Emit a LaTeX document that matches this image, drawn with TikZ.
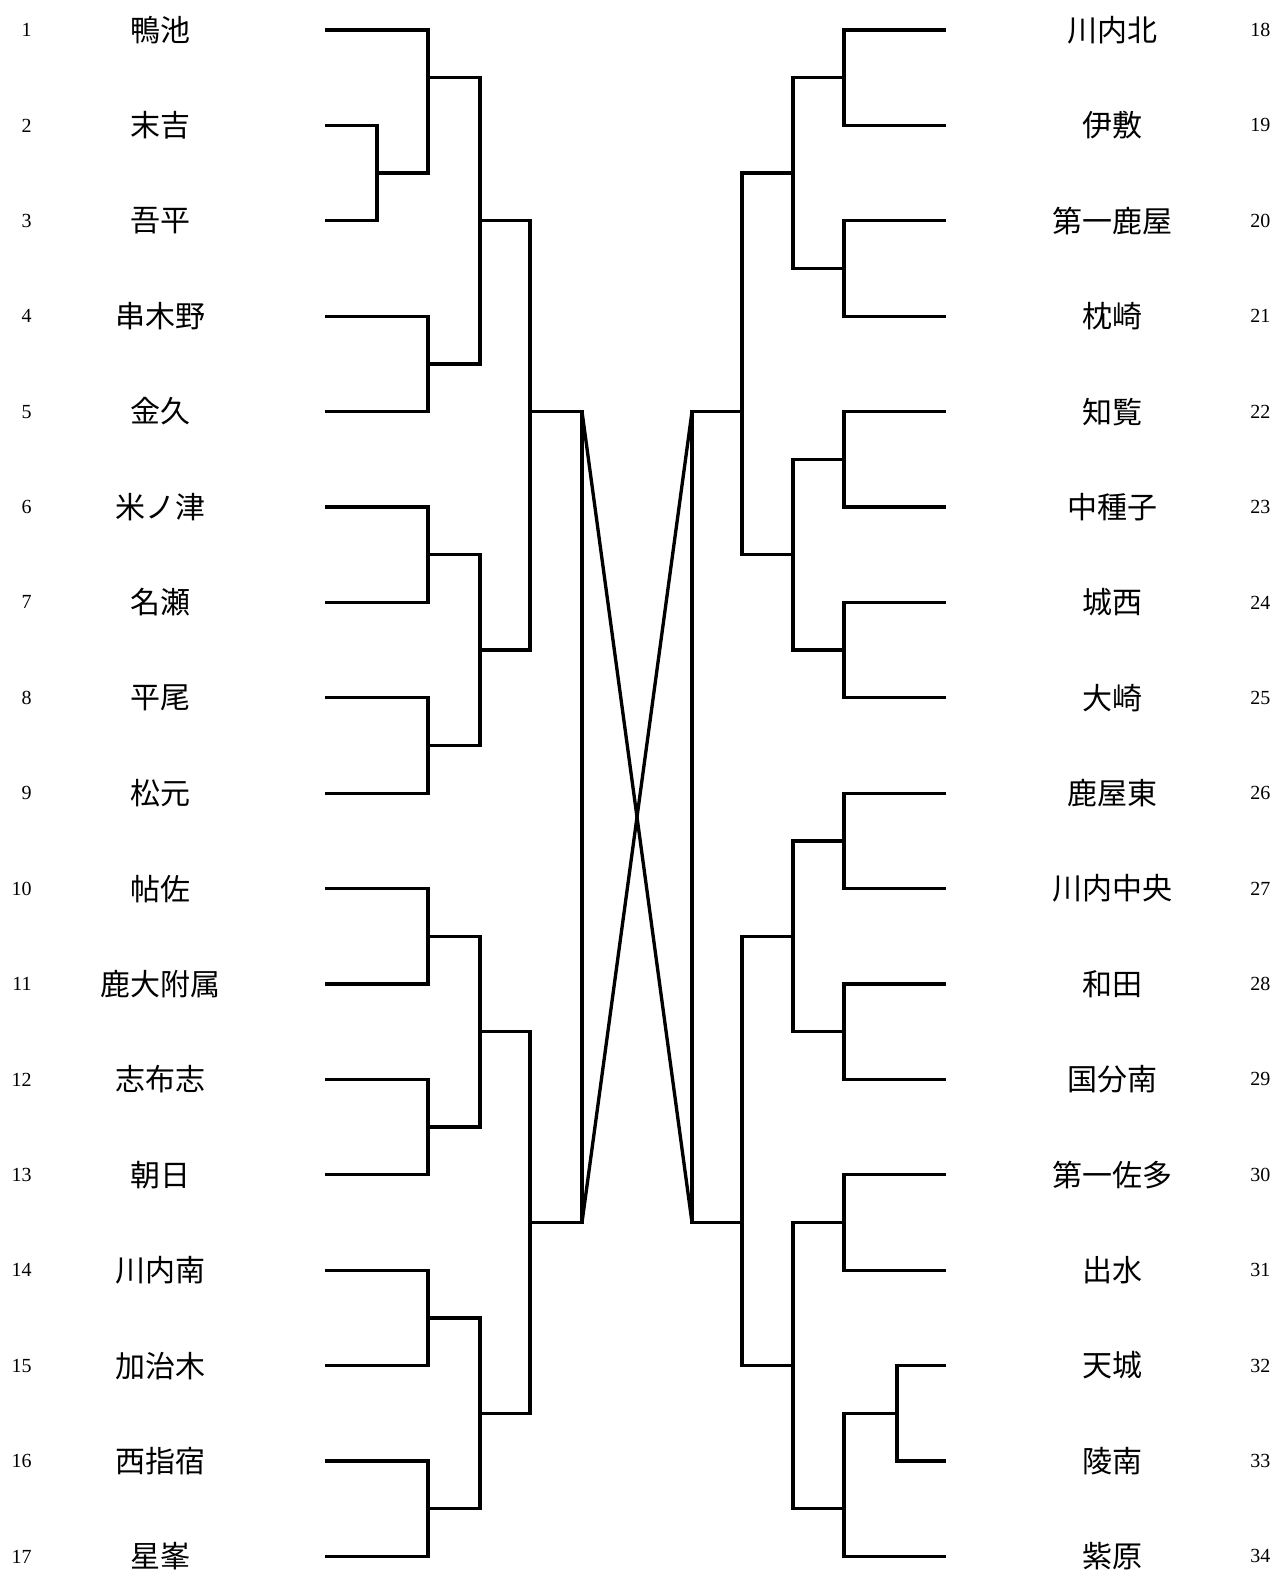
\documentclass[tikz,border=0pt]{standalone}
\usepackage{fontspec}
\setmainfont{Liberation Serif}
\newfontfamily\jpfont{Noto Sans CJK JP}
\newcommand\mtch[5]{%
  \coordinate (#5) at (#3,{ry(#4)});
  \draw[br] (#1) -| (#5) |- (#2);}
\begin{document}
\begin{tikzpicture}[x=0.75pt,y=-0.75pt,
  declare function={ry(\k)=30+(\k-1)*95.4;},
  br/.style={line width=2.5pt,line join=miter},
  team/.style={font=\jpfont\fontsize{22.5}{27}\selectfont,inner sep=0pt,anchor=center},
  numl/.style={font=\fontsize{15}{17}\selectfont,inner sep=0pt,anchor=east},
  numr/.style={font=\fontsize{15}{17}\selectfont,inner sep=0pt,anchor=west}]
\useasboundingbox (0,0) rectangle (1280,1572);
% left teams
\foreach \i/\t in {1/鴨池,2/末吉,3/吾平,4/串木野,5/金久,6/米ノ津,7/名瀬,8/平尾,9/松元,10/帖佐,11/鹿大附属,12/志布志,13/朝日,14/川内南,15/加治木,16/西指宿,17/星峯}{
  \node[numl] (nl\i) at (32,{ry(\i)}) {\i};
  \node[team] (tl\i) at (160,{ry(\i)}) {\t};
  \coordinate (L\i) at (325,{ry(\i)});
}
% right teams
\foreach \i/\t in {18/川内北,19/伊敷,20/第一鹿屋,21/枕崎,22/知覧,23/中種子,24/城西,25/大崎,26/鹿屋東,27/川内中央,28/和田,29/国分南,30/第一佐多,31/出水,32/天城,33/陵南,34/紫原}{
  \node[numr] (nr\i) at (1250,{ry(\i-17)}) {\i};
  \node[team] (tr\i) at (1112,{ry(\i-17)}) {\t};
  \coordinate (R\i) at (946,{ry(\i-17)});
}
% left bracket
\mtch{L2}{L3}{377}{2.5}{a23}
\mtch{L1}{a23}{428}{1.5}{b1}
\mtch{L4}{L5}{428}{4.5}{b4}
\mtch{b1}{b4}{480}{3}{c1}
\mtch{L6}{L7}{428}{6.5}{b6}
\mtch{L8}{L9}{428}{8.5}{b8}
\mtch{b6}{b8}{480}{7.5}{c6}
\mtch{c1}{c6}{530}{5}{d1}
\mtch{L10}{L11}{428}{10.5}{b10}
\mtch{L12}{L13}{428}{12.5}{b12}
\mtch{b10}{b12}{480}{11.5}{c10}
\mtch{L14}{L15}{428}{14.5}{b14}
\mtch{L16}{L17}{428}{16.5}{b16}
\mtch{b14}{b16}{480}{15.5}{c14}
\mtch{c10}{c14}{530}{13.5}{d10}
\mtch{d1}{d10}{582}{9}{e}
% right bracket
\mtch{R18}{R19}{844}{1.5}{p18}
\mtch{R20}{R21}{844}{3.5}{p20}
\mtch{p18}{p20}{793}{2.5}{q18}
\mtch{R22}{R23}{844}{5.5}{p22}
\mtch{R24}{R25}{844}{7.5}{p24}
\mtch{p22}{p24}{793}{6.5}{q22}
\mtch{q18}{q22}{742}{5}{s1}
\mtch{R26}{R27}{844}{9.5}{p26}
\mtch{R28}{R29}{844}{11.5}{p28}
\mtch{p26}{p28}{793}{10.5}{q26}
\mtch{R30}{R31}{844}{13.5}{p30}
\mtch{R32}{R33}{897}{15.5}{p32}
\mtch{p32}{R34}{844}{16.5}{p34}
\mtch{p30}{p34}{793}{15}{q30}
\mtch{q26}{q30}{742}{13.5}{s2}
\mtch{s1}{s2}{692}{9}{f}
% crossing final lines
\coordinate (eT) at (582,{ry(5)});
\coordinate (eB) at (582,{ry(13.5)});
\coordinate (fT) at (692,{ry(5)});
\coordinate (fB) at (692,{ry(13.5)});
\draw[br] (eT) -- (fB);
\draw[br] (eB) -- (fT);
\end{tikzpicture}
\end{document}
